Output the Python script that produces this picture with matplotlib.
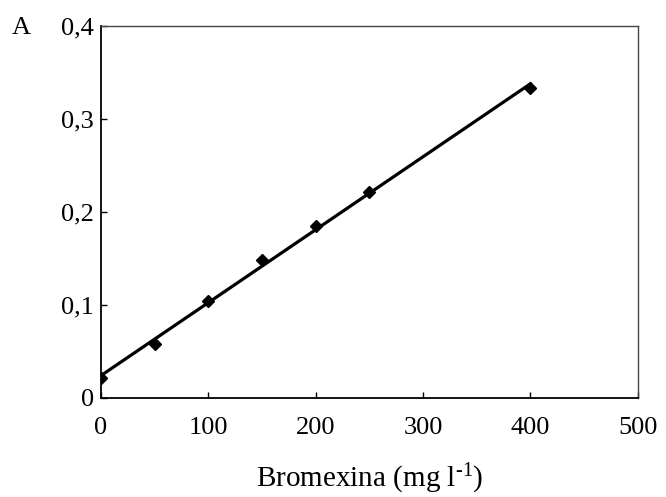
import numpy as np
import matplotlib
matplotlib.use("Agg")
import matplotlib.pyplot as plt

# calibration data
bromexina = [0, 50, 100, 150, 200, 250, 400]
absorb = [0.021, 0.0575, 0.104, 0.148, 0.185, 0.221, 0.333]

x_ticks = [0, 100, 200, 300, 400, 500]
y_ticks = [0, 0.1, 0.2, 0.3, 0.4]
y_tick_labels = ["0", "0,1", "0,2", "0,3", "0,4"]

plt.rcParams["font.family"] = ["Liberation Serif", "DejaVu Serif"]
plt.rcParams["mathtext.default"] = "regular"

fig = plt.figure(figsize=(6.66, 4.97), dpi=100)
ax = fig.add_axes([0.1517, 0.1998, 0.806, 0.748])

# least squares line over the measured range
slope, icpt = np.polyfit(bromexina, absorb, 1)
fit_x = np.array([bromexina[0], bromexina[-1]])
ax.plot(fit_x, slope * fit_x + icpt, color="black", lw=2.3, zorder=2)
ax.plot(bromexina, absorb, ls="none", marker="D", ms=6, color="black", zorder=3)

ax.set_xlim(0, 500)
ax.set_ylim(0, 0.4)
ax.set_xticks(x_ticks)
ax.set_yticks(y_ticks)
ax.set_yticklabels(y_tick_labels)
ax.tick_params(direction="in", length=4, width=1, labelsize=19, colors="black")
ax.tick_params(axis="x", pad=14)
ax.tick_params(axis="y", pad=5)
for s in ["left", "bottom"]:
    ax.spines[s].set_linewidth(1.3)
for s in ["top", "right"]:
    ax.spines[s].set_linewidth(1)
    ax.spines[s].set_color("#444444")

ax.set_xlabel("Bromexina (mg l$^{\u2010 1}$)", fontsize=21, labelpad=16)
fig.text(0.018, 0.931, "A", fontsize=19, va="baseline", ha="left")

fig.savefig("out.png", dpi=100)
